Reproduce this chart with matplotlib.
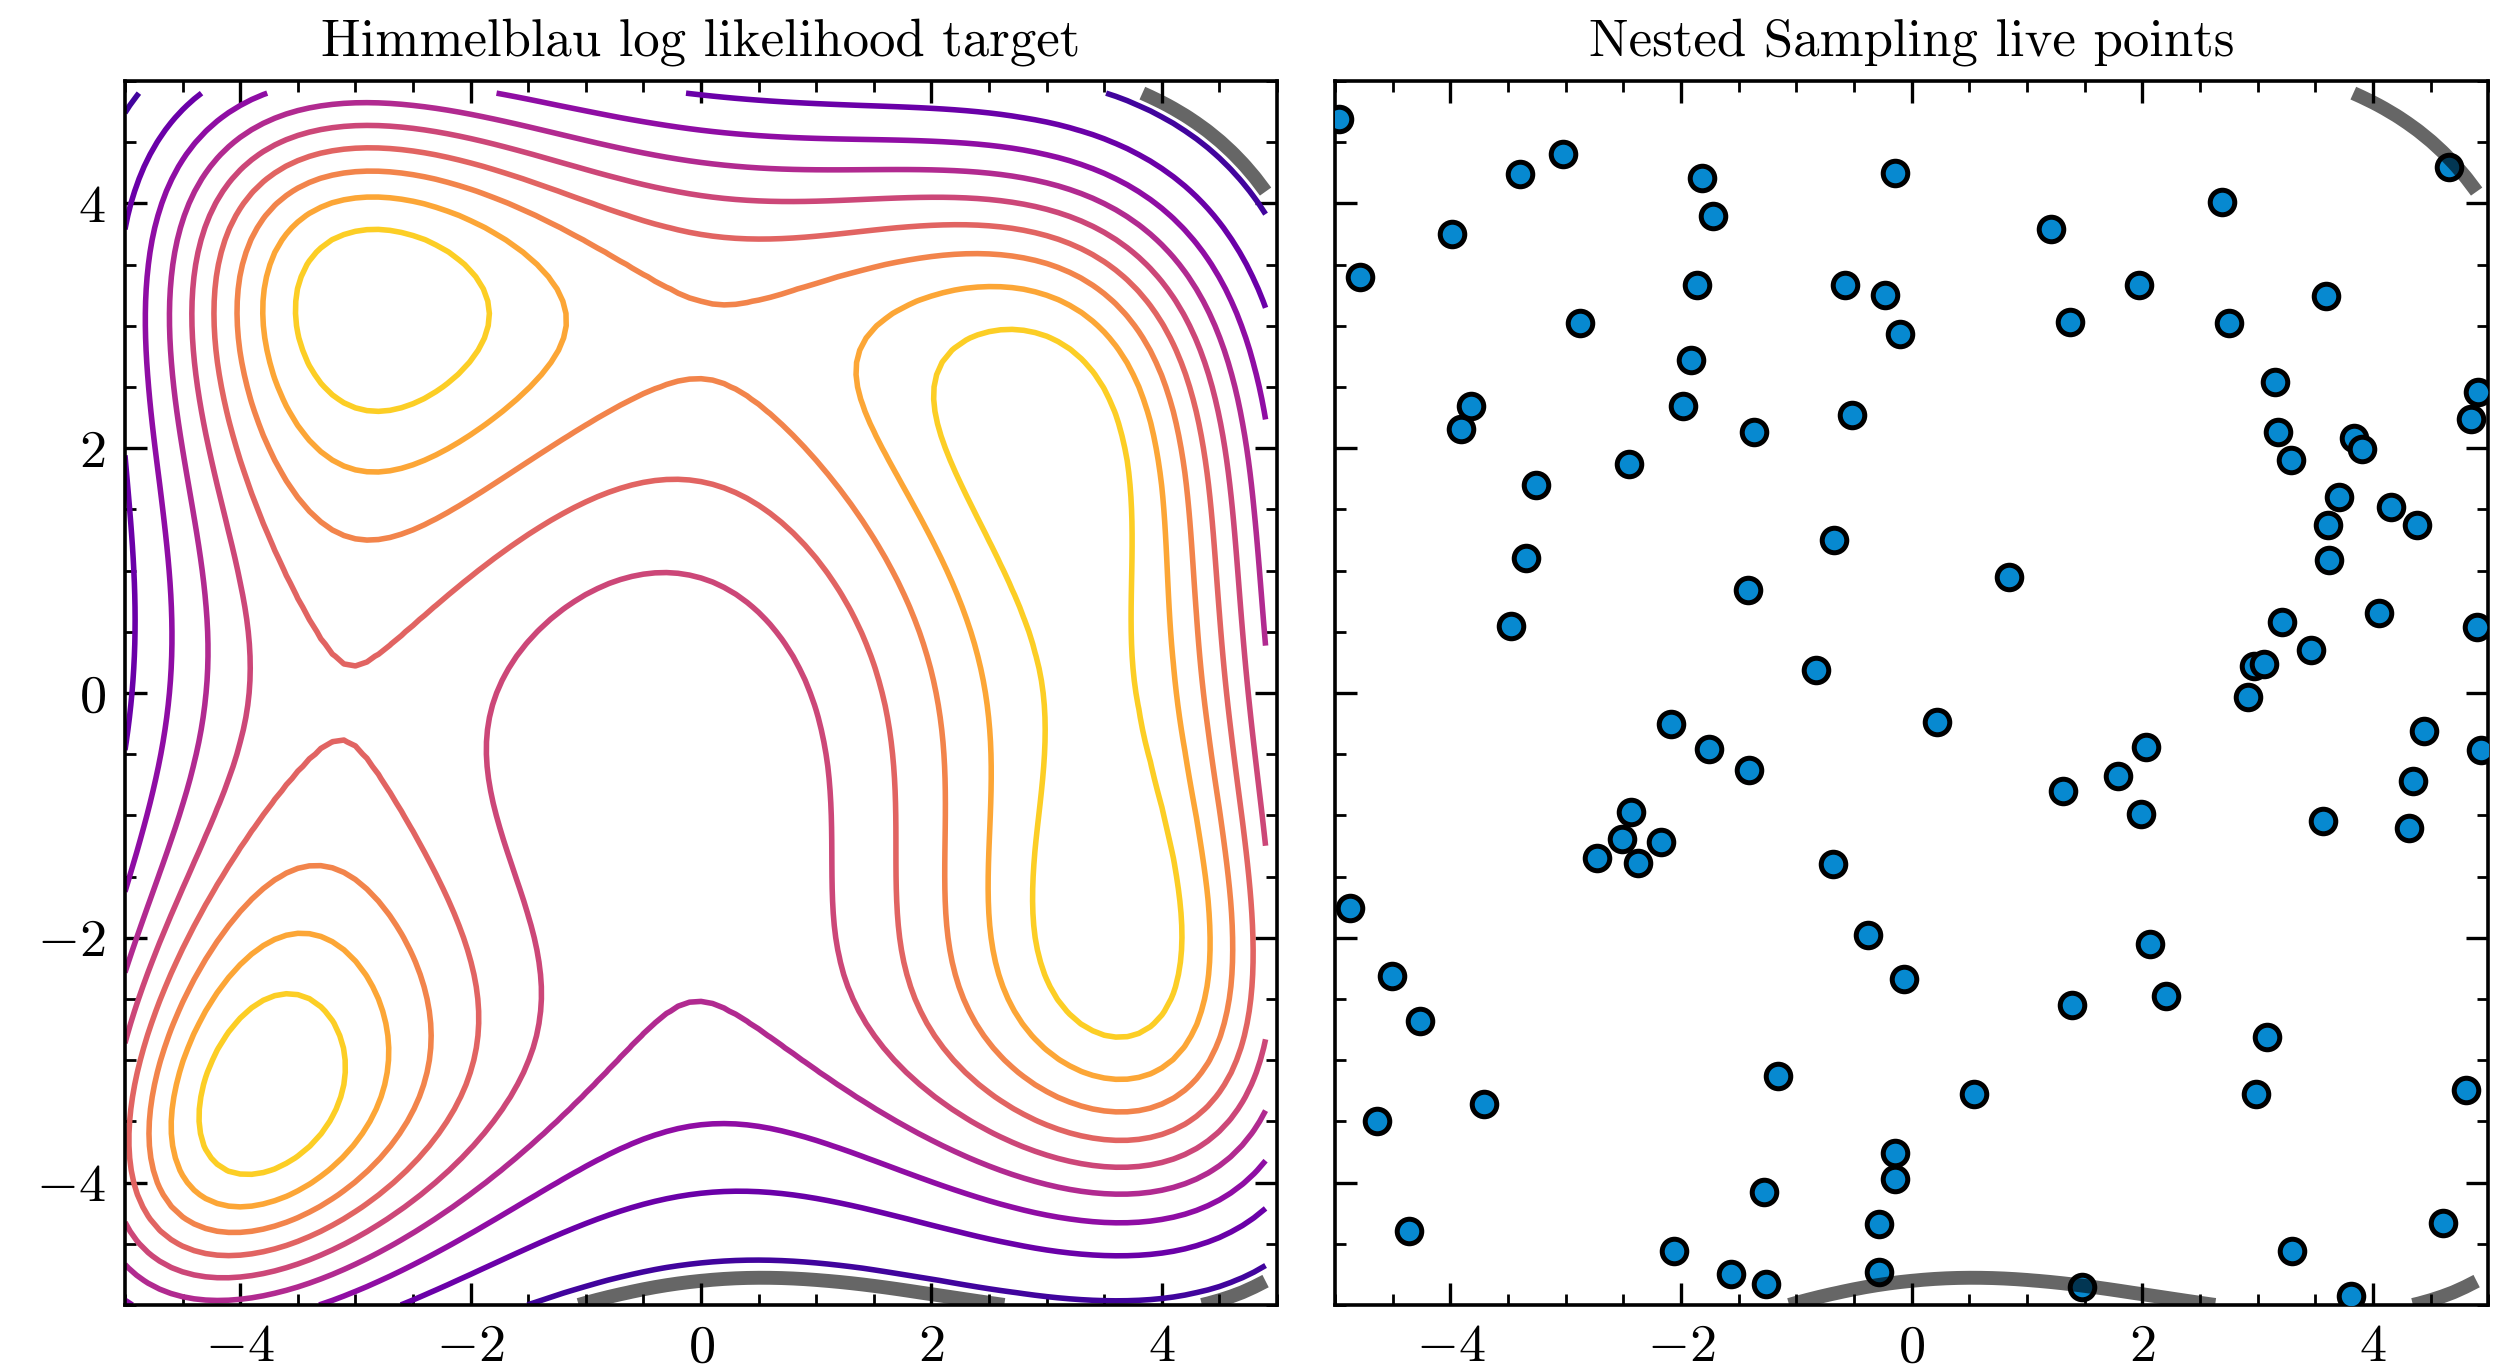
import numpy as np
import matplotlib
matplotlib.use("Agg")
import matplotlib.pyplot as plt
from matplotlib.ticker import MultipleLocator

plt.rcParams.update({
    "font.family": "serif",
    "font.serif": ["cmr10"],
    "mathtext.fontset": "cm",
    "axes.formatter.use_mathtext": True,
    "axes.unicode_minus": True,
})

# ---------------- data ----------------
titles = ["Himmelblau log likelihood target", "Nested Sampling live points"]
axis_limits = [-5.0, 5.0]
major_ticks = [-4, -2, 0, 2, 4]

# evaluation grid of the target (start, stop, step)
grid_start, grid_stop, grid_step = -5.0, 5.0, 0.1
loglike_scale = 200.0          # log L = -Himmelblau(x, y) / scale
contour_levels = [0.0, 0.1, 0.2, 0.3, 0.4, 0.5, 0.6, 0.7, 0.8, 0.9, 1.0]  # levels of L = exp(log L)
live_logl_min = -2.54          # lowest log L among the live points

live_x = [-4.97, -3.40, -3.02, -3.99, -4.78, -1.82, -1.72, -1.86, -0.14, -0.58,
          -0.23, -0.10, -2.88, -1.91, -3.82, -3.91, -1.985, -1.37, -0.52, -2.45,
          -3.26, -3.34, -0.67, -1.42, -3.47, -0.83,
          2.69, 1.21, 1.97, 1.37, 3.59, 2.75, 4.66, 3.15, 3.18, 3.29,
          3.84, 3.91, 3.71, 3.61, 3.62, 4.16, 4.38, 4.91, 4.85, 0.845,
          3.21, 4.05, 3.46, 4.90, 2.97, 3.06, 2.92,
          -2.085, -1.76, -1.41, -2.43, -2.51, -2.175, -2.73, -2.375, -0.68, -4.87,
          -4.51, -4.26, -4.64, -3.71, -1.155, -0.38, -0.065, -0.14, -0.14, -1.28,
          -0.28, -0.28, -4.36, -2.06, -1.57, -1.26,
          0.22, 1.31, 1.79, 2.03, 1.99, 4.44, 4.94, 4.35, 4.31, 3.57,
          2.07, 2.21, 1.39, 3.08, 2.99, 0.54, 4.81, 1.48, 3.30, 4.61, 3.81]
live_y = [4.69, 4.24, 4.40, 3.75, 3.40, 4.21, 3.90, 3.33, 4.25, 3.33,
          3.25, 2.93, 3.02, 2.72, 2.34, 2.16, 2.34, 2.13, 2.27, 1.87,
          1.70, 1.10, 1.25, 0.84, 0.55, 0.19,
          4.01, 3.79, 3.33, 3.03, 3.24, 3.02, 4.30, 2.54, 2.13, 1.90,
          2.08, 1.99, 1.60, 1.37, 1.09, 1.52, 1.37, 2.46, 2.24, 0.95,
          0.58, 0.65, 0.35, 0.54, 0.22, 0.24, -0.03,
          -0.257, -0.46, -0.63, -0.97, -1.19, -1.22, -1.35, -1.39, -1.40, -1.76,
          -2.31, -2.68, -3.50, -3.36, -3.13, -1.98, -2.34, -3.76, -3.97, -4.08,
          -4.34, -4.73, -4.40, -4.56, -4.75, -4.83,
          -0.235, -0.80, -0.68, -0.44, -0.99, -0.31, -0.47, -0.72, -1.10, -1.05,
          -2.05, -2.48, -2.55, -2.81, -3.28, -3.28, -3.24, -4.85, -4.56, -4.33, -4.93]


def himmelblau_loglike(x, y):
    return -((x ** 2 + y - 11) ** 2 + (x + y ** 2 - 7) ** 2) / loglike_scale


g = np.arange(grid_start, grid_stop, grid_step)
X, Y = np.meshgrid(g, g)
logL = himmelblau_loglike(X, Y)
L = np.exp(logL)

# ---------------- figure ----------------
fig = plt.figure(figsize=(12.55, 6.845), dpi=200)
ax1 = fig.add_axes([0.0498, 0.0468, 0.4590, 0.8941])
ax2 = fig.add_axes([0.5319, 0.0468, 0.4594, 0.8941])

gray_kw = dict(levels=[live_logl_min], colors="black", alpha=0.6, linewidths=5.0,
               linestyles="solid", zorder=4)

ax1.contour(X, Y, L, levels=contour_levels, cmap="plasma", linewidths=2.0,
            linestyles="solid", zorder=2)
ax1.contour(X, Y, logL, **gray_kw)

ax2.scatter(live_x, live_y, s=78, c="#0789d0", edgecolors="black", linewidths=1.8, zorder=3)
ax2.contour(X, Y, logL, **gray_kw)

for ax, title in zip((ax1, ax2), titles):
    ax.set_xlim(axis_limits)
    ax.set_ylim(axis_limits)
    ax.set_xticks(major_ticks)
    ax.set_yticks(major_ticks)
    ax.xaxis.set_minor_locator(MultipleLocator(0.5))
    ax.yaxis.set_minor_locator(MultipleLocator(0.5))
    ax.tick_params(which="both", direction="in", top=True, right=True, labelsize=19.5)
    ax.tick_params(which="major", length=8, width=1.2, pad=7)
    ax.tick_params(which="minor", length=4, width=1.0)
    for sp in ax.spines.values():
        sp.set_linewidth(1.3)
    ax.set_title(title, fontsize=19, pad=9)

ax2.tick_params(labelleft=False)

fig.savefig("out.png", dpi=200)
